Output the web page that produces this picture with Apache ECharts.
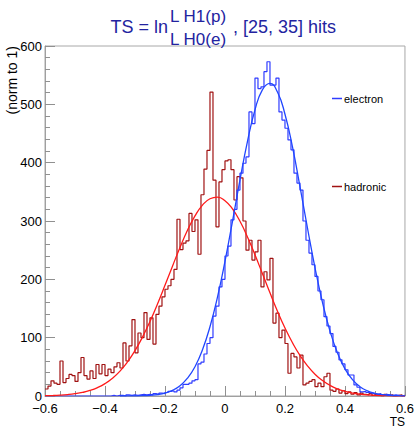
<!DOCTYPE html>
<html>
<head>
<meta charset="utf-8">
<script src="https://cdn.jsdelivr.net/npm/echarts@6/dist/echarts.min.js"></script>
<style>html,body{margin:0;padding:0;background:#fff}#c{width:417px;height:428px}</style>
</head>
<body>
<div id="c"></div>
<script>
// Histogram binning: 120 bins of width 0.01 from -0.6 to 0.6
const binStart = -0.6;
const binWidth = 0.01;

const hadronic = [
  12,17,26,22,20,60,23,30,37,35,
  25,40,66,35,29,43,30,54,38,54,
  35,46,40,50,57,48,91,60,86,131,
  74,108,100,143,97,134,89,140,154,170,
  183,189,200,217,303,251,262,266,313,282,
  302,243,345,389,421,521,370,290,367,388,
  403,405,388,336,376,374,300,250,267,233,
  247,267,187,213,199,236,125,142,100,113,
  90,39,73,67,48,70,19,22,25,28,
  16,22,16,33,39,10,8,12,5,9,
  4,7,3,6,2,5,3,2,4,1,
  3,2,0,3,1,2,0,1,2,0
];

const electron = [
  0,0,0,0,0,0,0,0,0,0,
  0,0,0,0,0,0,0,0,0,0,
  0,0,1,0,1,1,0,2,1,2,
  1,2,3,2,3,2,4,3,5,4,
  6,8,9,7,10,14,20,20,22,26,
  28,55,58,72,90,100,137,154,187,200,
  240,257,302,320,353,382,399,410,487,467,
  545,527,530,556,573,533,533,545,487,473,
  459,439,422,382,365,353,300,267,245,225,
  205,180,165,136,120,107,85,75,62,55,
  45,36,36,19,15,7,8,6,5,4,
  3,4,2,3,2,1,2,1,0,1
];

// Fit curves at 0.025 steps
const electronFitX = [-0.35,-0.325,-0.3,-0.275,-0.25,-0.225,-0.2,-0.175,-0.15,-0.125,-0.1,-0.075,-0.05,-0.025,0,0.025,0.05,0.075,0.1,0.125,0.15,0.175,0.2,0.225,0.25,0.275,0.3,0.325,0.35,0.375,0.4,0.425,0.45,0.475,0.5,0.525,0.55,0.575,0.6];
const electronFitY = [0,0.1,0.2,0.5,1.2,2.5,5.1,9.7,17.6,30.5,50.2,79.2,118.7,169.5,230.7,299.5,370.5,436.6,490.6,525.2,536,521,483,427,359,288,220,160.6,111.5,73.8,46.6,28,16,8.8,4.6,2.3,1.1,0.5,0.2];

const hadronicFitX = [-0.6,-0.575,-0.55,-0.525,-0.5,-0.475,-0.45,-0.425,-0.4,-0.375,-0.35,-0.325,-0.3,-0.275,-0.25,-0.225,-0.2,-0.175,-0.15,-0.125,-0.1,-0.075,-0.05,-0.025,0,0.025,0.05,0.075,0.1,0.125,0.15,0.175,0.2,0.225,0.25,0.275,0.3,0.325,0.35,0.375,0.4,0.425,0.45,0.475,0.5,0.525,0.55,0.575,0.6];
const hadronicFitY = [0.5,0.8,1.4,2.4,3.9,6.1,9.5,14.4,21.2,30.5,42.7,58.4,77.7,101,127.8,157.7,189.8,222.6,254.7,284,308.7,327.3,338.2,341,334.8,320.7,299.5,272.7,242,209.5,176.8,145.4,116.6,91.2,69.5,51.7,37.4,26.5,18.2,12.2,8,5.1,3.2,1.9,1.1,0.7,0.4,0.2,0.1];

const xTicks = {min: -0.6, max: 0.6, interval: 0.2};
const yTicks = {min: 0, max: 600, interval: 100};

function histPoints(vals) {
  const pts = vals.map((v, i) => [+(binStart + i * binWidth).toFixed(4), v]);
  pts.push([+(binStart + vals.length * binWidth).toFixed(4), vals[vals.length - 1]]);
  return pts;
}
function zip(xs, ys) { return xs.map((x, i) => [x, ys[i]]); }

const FONT = '"Liberation Sans", Arial, Helvetica, sans-serif';
const BLUE = '#2f3cff';
const BLUEFIT = '#2046ff';
const DARKRED = '#a01212';
const RED = '#ff1a1a';
const TITLE = '#2323a0';

const chart = echarts.init(document.getElementById('c'), null, {renderer: 'svg'});
chart.setOption({
  animation: false,
  backgroundColor: '#fff',
  grid: {left: 45, right: 11, top: 46, bottom: 32, show: true, borderColor: '#a8a8a8', borderWidth: 1},
  legend: [
    {data: ['electron'], left: 327, top: 88, icon: 'rect', itemWidth: 10, itemHeight: 1.5, itemGap: 2,
     textStyle: {fontSize: 11, fontFamily: FONT, color: '#000', padding: [0,0,0,-3]}},
    {data: ['hadronic'], left: 327, top: 176, icon: 'rect', itemWidth: 10, itemHeight: 1.5, itemGap: 2,
     textStyle: {fontSize: 11, fontFamily: FONT, color: '#000', padding: [0,0,0,-3]}}
  ],
  xAxis: {
    type: 'value', min: xTicks.min, max: xTicks.max, interval: xTicks.interval,
    axisLine: {show: true, onZero: false, lineStyle: {color: '#a0a0a0'}},
    axisTick: {show: true, inside: true, length: 10, lineStyle: {color: '#909090'}},
    minorTick: {show: true, splitNumber: 4, length: 5, lineStyle: {color: '#909090'}},
    splitLine: {show: false},
    axisLabel: {fontSize: 13, lineHeight: 12, fontFamily: FONT, color: '#000', margin: 6,
      formatter: v => Math.abs(v) < 1e-9 ? '0' : (v < 0 ? '\u2212' : '') + Math.abs(v).toFixed(1)}
  },
  yAxis: {
    type: 'value', min: yTicks.min, max: yTicks.max, interval: yTicks.interval,
    axisLine: {show: true, onZero: false, lineStyle: {color: '#a0a0a0'}},
    axisTick: {show: true, inside: true, length: 10, lineStyle: {color: '#909090'}},
    minorTick: {show: true, splitNumber: 5, length: 5, lineStyle: {color: '#909090'}},
    splitLine: {show: false},
    axisLabel: {fontSize: 13, lineHeight: 10, fontFamily: FONT, color: '#000', margin: 3, padding: [0, 0, 4, 0]}
  },
  series: [
    {name: 'hadronic', type: 'line', step: 'end', symbol: 'none', data: histPoints(hadronic),
     color: DARKRED, lineStyle: {color: DARKRED, width: 1.2}, z: 2},
    {name: 'electron', type: 'line', step: 'end', symbol: 'none', data: histPoints(electron),
     color: BLUE, lineStyle: {color: BLUE, width: 1.2}, z: 2},
    {name: 'hadronic fit', type: 'line', smooth: true, symbol: 'none', data: zip(hadronicFitX, hadronicFitY),
     lineStyle: {color: RED, width: 1.3}, z: 3},
    {name: 'electron fit', type: 'line', smooth: true, symbol: 'none', data: zip(electronFitX, electronFitY),
     lineStyle: {color: BLUEFIT, width: 1.3}, z: 3}
  ],
  graphic: [
    {type: 'text', style: {text: 'TS = ln', x: 168, y: 27, align: 'right', verticalAlign: 'middle', font: '18px ' + FONT, fill: TITLE}},
    {type: 'text', style: {text: 'L H1(p)', x: 170, y: 16, align: 'left', verticalAlign: 'middle', font: '17px ' + FONT, fill: TITLE}},
    {type: 'text', style: {text: 'L H0(e)', x: 170, y: 39, align: 'left', verticalAlign: 'middle', font: '17px ' + FONT, fill: TITLE}},
    {type: 'text', style: {text: ', [25, 35] hits', x: 233, y: 27, align: 'left', verticalAlign: 'middle', font: '18px ' + FONT, fill: TITLE}},
    {type: 'text', x: 12, y: 46, rotation: Math.PI / 2, style: {text: '(norm to 1)', align: 'right', verticalAlign: 'middle', font: '14px ' + FONT, fill: '#000'}},
    {type: 'text', style: {text: 'TS', x: 405, y: 428, align: 'right', verticalAlign: 'bottom', font: '12px ' + FONT, fill: '#000'}}
  ]
});
</script>
</body>
</html>
